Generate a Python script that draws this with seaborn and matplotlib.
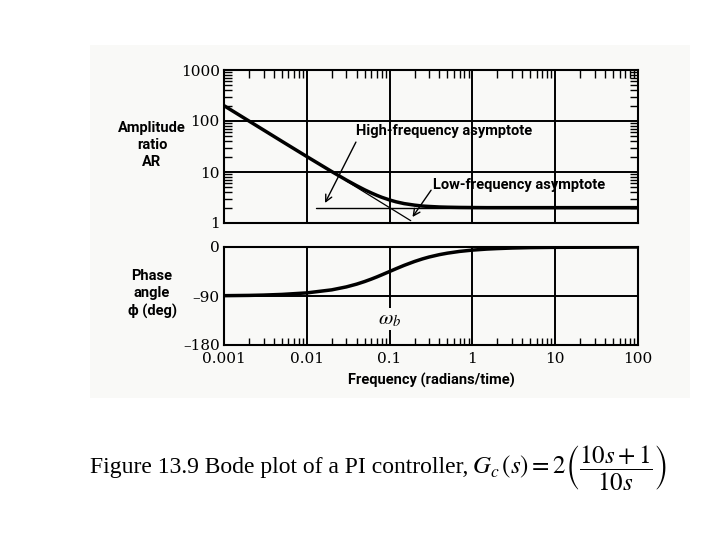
import matplotlib
matplotlib.use("Agg")
import matplotlib.pyplot as plt
import seaborn as sns
import numpy as np
import pandas as pd
from matplotlib.ticker import LogLocator, NullFormatter, FixedLocator

sns.set_style("white")
plt.rcParams['font.family'] = ['Roboto', 'DejaVu Sans']
plt.rcParams['mathtext.fontset'] = 'stix'
plt.rcParams['text.color'] = 'black'
plt.rcParams['xtick.color'] = 'black'
plt.rcParams['ytick.color'] = 'black'
plt.rcParams['axes.labelcolor'] = 'black'

# ---- data ----
freq = [0.001, 0.002, 0.003, 0.005, 0.01, 0.02, 0.03, 0.04, 0.05, 0.06, 0.07,
        0.08, 0.1, 0.12, 0.15, 0.2, 0.25, 0.3, 0.4, 0.5, 0.7, 1, 1.5, 2, 3,
        5, 10, 100]
amp_ratio = [200, 100, 66.7, 40, 20.1, 10.2, 6.96, 5.39, 4.47, 3.89, 3.49,
             3.20, 2.83, 2.60, 2.40, 2.24, 2.15, 2.11, 2.06, 2.04, 2.02, 2.01,
             2.0, 2.0, 2.0, 2.0, 2.0, 2.0]
phase_deg = [-89.4, -88.9, -88.3, -87.1, -84.3, -78.7, -73.3, -68.2, -63.4,
             -59.0, -55.0, -51.3, -45.0, -39.8, -33.7, -26.6, -21.8, -18.4,
             -14.0, -11.3, -8.1, -5.7, -3.8, -2.9, -1.9, -1.1, -0.6, 0.0]
hf_asym_x = [0.013, 100]
hf_asym_y = [2.0, 2.0]
lf_asym_x = [0.03, 0.18]
lf_asym_y = [6.67, 1.11]
ar_ticks = [1, 10, 100, 1000]
ar_ticklabels = ["1", "10", "100", "1000"]
ph_ticks = [-180, -90, 0]
ph_ticklabels = ["\u2013180", "\u201390", "0"]
w_ticks = [0.001, 0.01, 0.1, 1, 10, 100]
w_ticklabels = ["0.001", "0.01", "0.1", "1", "10", "100"]

df = pd.DataFrame({"w": freq, "AR": amp_ratio, "phi": phase_deg})

fig = plt.figure(figsize=(7.2, 5.4), dpi=100)
fig.patch.set_facecolor("white")
BG = "#f9f9f7"
fig.patches.append(plt.Rectangle((90/720, 1-398/540), 600/720, 353/540,
                                 transform=fig.transFigure, facecolor=BG,
                                 edgecolor="none", zorder=-10))

L, R = 224/720, 638/720
ax1 = fig.add_axes([L, 1-223/540, R-L, (223-70)/540])
ax2 = fig.add_axes([L, 1-345/540, R-L, (345-247)/540])

tick_font = dict(family=['DejaVu Serif'], size=11)
lab_family = ['Roboto', 'DejaVu Sans']
lab_font = dict(family=lab_family, size=10.5, weight='bold')

for ax in (ax1, ax2):
    ax.set_facecolor("none")
    ax.set_xscale("log")
    ax.set_xlim(0.001, 100)
    for s in ax.spines.values():
        s.set_linewidth(1.5)
        s.set_color("black")
    ax.xaxis.set_major_locator(FixedLocator(w_ticks))
    ax.xaxis.set_minor_locator(LogLocator(base=10, subs=np.arange(2, 10), numticks=20))
    ax.xaxis.set_minor_formatter(NullFormatter())
    ax.grid(True, which="major", color="black", linewidth=1.4)
    ax.tick_params(which="major", length=0)

# ---- amplitude ratio ----
sns.lineplot(data=df, x="w", y="AR", ax=ax1, color="black", linewidth=2.5, legend=False)
ax1.plot(hf_asym_x, hf_asym_y, color="black", linewidth=1.0)
ax1.plot(lf_asym_x, lf_asym_y, color="black", linewidth=0.9)
ax1.set_yscale("log")
ax1.set_ylim(1, 1000)
ax1.yaxis.set_major_locator(FixedLocator(ar_ticks))
ax1.set_yticklabels(ar_ticklabels, fontdict=tick_font)
ax1.yaxis.set_minor_locator(LogLocator(base=10, subs=np.arange(2, 10), numticks=20))
ax1.yaxis.set_minor_formatter(NullFormatter())
ax1.tick_params(axis="y", which="minor", direction="in", left=True, right=True,
                length=6, width=1.0)
ax1.tick_params(axis="x", which="minor", direction="in", top=True, bottom=False,
                length=6, width=1.0)
ax1.set_xticklabels([])
ax1.set_xlabel("")
ax1.set_ylabel("")
ax1.tick_params(axis="y", which="major", pad=3)

# annotation labels and their arrows
ax1.text(0.0395, 63, "High-frequency asymptote", ha="left", va="center",
         fontsize=10.5, fontweight='bold', family=lab_family)
ax1.annotate("", xy=(0.0166, 2.47), xytext=(0.0392, 38.6),
             arrowprops=dict(arrowstyle="->", color="black", lw=1.0,
                             shrinkA=0, shrinkB=0, mutation_scale=12))
ax1.text(0.33, 5.56, "Low-frequency asymptote", ha="left", va="center",
         fontsize=10.5, fontweight='bold', family=lab_family)
ax1.annotate("", xy=(0.189, 1.31), xytext=(0.317, 4.4),
             arrowprops=dict(arrowstyle="->", color="black", lw=1.0,
                             shrinkA=0, shrinkB=0, mutation_scale=12))

# ---- phase ----
sns.lineplot(data=df, x="w", y="phi", ax=ax2, color="black", linewidth=2.5, legend=False)
ax2.set_ylim(-180, 0)
ax2.yaxis.set_major_locator(FixedLocator(ph_ticks))
ax2.set_yticklabels(ph_ticklabels, fontdict=tick_font)
ax2.set_xticklabels(w_ticklabels, fontdict=tick_font)
ax2.tick_params(axis="x", which="minor", direction="in", bottom=True, top=False,
                length=5, width=1.0)
ax2.tick_params(axis="x", which="major", pad=5)
ax2.tick_params(axis="y", which="major", pad=3)
ax2.set_ylabel("")
ax2.set_xlabel("Frequency (radians/time)", fontdict=lab_font, labelpad=5)
ax2.text(0.1, -133, r"$\omega_b$", ha="center", va="center", fontsize=15,
         bbox=dict(facecolor=BG, edgecolor="none", pad=1.0))

fig.text(152/720, 1-145/540, "Amplitude\nratio\nAR", ha="center", va="center",
         linespacing=1.3, **lab_font)
fig.text(152/720, 1-294/540, "Phase\nangle\n\u03d5 (deg)", ha="center", va="center",
         linespacing=1.3, **lab_font)

# ---- caption ----
fig.text(90/720, 1-468/540, "Figure 13.9 Bode plot of a PI controller, ",
         ha="left", va="center", family=["Liberation Serif"], fontsize=17)
fig.text(472/720, 1-468/540,
         r"$G_c\,(s)=2\left(\dfrac{10s+1}{10s}\right)$",
         ha="left", va="center", fontsize=18)

fig.savefig("out.png", dpi=100)
